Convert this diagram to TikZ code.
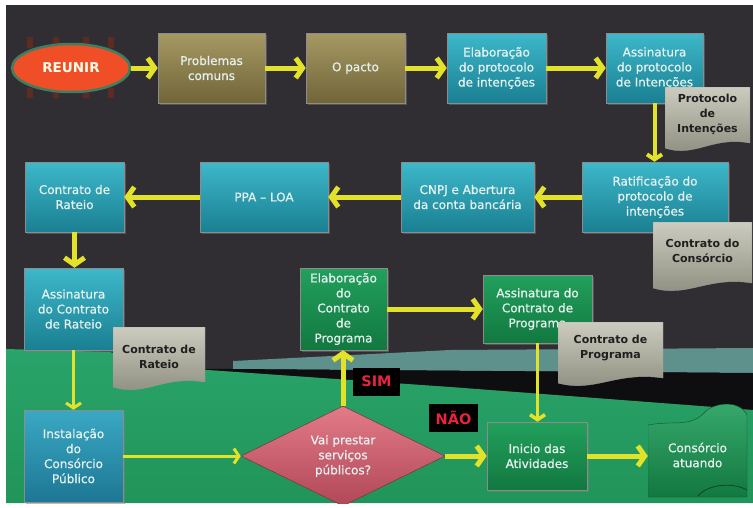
\documentclass[tikz,border=0pt]{standalone}
\usepackage{fontspec}
\setmainfont{DejaVu Sans}
\newfontfamily\boxfont{DejaVu Sans}[FakeBold=0.8]
\usetikzlibrary{shapes.geometric,arrows.meta,calc,shadows}
\definecolor{bgdark}{HTML}{302E33}
\definecolor{tealT}{HTML}{3DB8CA}
\definecolor{tealB}{HTML}{1A7F92}
\definecolor{instT}{HTML}{3AA8C4}
\definecolor{instB}{HTML}{1D7794}
\definecolor{oliveT}{HTML}{A69963}
\definecolor{oliveB}{HTML}{716539}
\definecolor{grnT}{HTML}{22A05C}
\definecolor{grnB}{HTML}{127840}
\definecolor{plane}{HTML}{29A46A}
\definecolor{planeB}{HTML}{219459}
\definecolor{strip}{HTML}{5E918B}
\definecolor{band}{HTML}{0E0E10}
\definecolor{docT}{HTML}{CBCBBF}
\definecolor{docB}{HTML}{8C8C7D}
\definecolor{diaT}{HTML}{E27A88}
\definecolor{diaB}{HTML}{B04858}
\definecolor{arrowY}{HTML}{E2E22A}
\definecolor{reunirF}{HTML}{F04E26}
\definecolor{reunirD}{HTML}{3E7E62}
\definecolor{chair}{HTML}{5E2A24}
\definecolor{boxtext}{HTML}{E4F1EF}
\definecolor{labred}{HTML}{E8243C}
\begin{document}
\begin{tikzpicture}[x=1pt,y=1pt,
  box/.style 2 args={rectangle, minimum width=#1, minimum height=#2, align=center,
    text=boxtext, font=\boxfont\fontsize{12}{15}\selectfont, inner sep=1pt,
    draw=black!45, line width=0.5pt,
    drop shadow={shadow xshift=2pt, shadow yshift=-2pt, opacity=0.45}},
  teal/.style={top color=tealT, bottom color=tealB},
  instc/.style={top color=instT, bottom color=instB},
  olive/.style={top color=oliveT, bottom color=oliveB},
  grn/.style={top color=grnT, bottom color=grnB},
  doctext/.style={align=center, font=\bfseries\fontsize{11}{15}\selectfont, text=black!88},
  doc/.style 2 args={rectangle, minimum width=#1, minimum height=#2, inner sep=0pt,
    path picture={
      \shade[top color=docT, bottom color=docB, draw=black!40]
        let \p1=(path picture bounding box.north west),
            \p2=(path picture bounding box.south east) in
        (\x1,\y1) -- (\x2,\y1) -- (\x2,\y2+10)
        .. controls (\x1+0.55*\x2-0.55*\x1,\y2+17) and (\x1+0.35*\x2-0.35*\x1,\y2-5) ..
        (\x1,\y2+5) -- cycle;
    }},
  arr/.style={draw=arrowY, line width=5pt, -{Straight Barb[length=7pt,width=20pt]}},
  arrthin/.style={draw=arrowY, line width=3pt, -{Straight Barb[length=5pt,width=15pt]}},
  lab/.style={fill=black, text=labred, font=\bfseries\fontsize{14.5}{16}\selectfont,
    minimum width=#1, minimum height=28, inner sep=0pt},
]
\useasboundingbox (0,0) rectangle (753,-507);
\fill[white] (0,0) rectangle (753,-507);
\begin{scope}
\clip (6,-5) rectangle (753,-503);
\fill[bgdark] (6,-5) rectangle (753,-503);
% background planes
\fill[strip] (233,-361) -- (450,-350) -- (753,-348) -- (753,-373) -- (233,-369) -- cycle;
\fill[band] (190,-368.7) -- (233,-369) -- (753,-373) -- (753,-410) -- (450,-387) -- cycle;
\shade[top color=plane, bottom color=planeB]
  (6,-349) -- (110,-352) -- (150,-366) -- (450,-387) -- (753,-410) -- (753,-503) -- (6,-503) -- cycle;

% chairs around the table
\foreach \cx in {30,56,86,111} {
  \fill[chair] (\cx-3,-37) rectangle (\cx+3,-48);
  \fill[chair] (\cx-3,-88) rectangle (\cx+3,-98);
}
\node[ellipse, fill=reunirF, draw=reunirD, line width=2.5pt, minimum width=118, minimum height=48,
  text=white!92!yellow, font=\bfseries\fontsize{13.5}{15}\selectfont] (reunir) at (71,-68) {REUNIR};

% row 1
\node[box={107}{70}, olive] (prob) at (211.5,-68) {Problemas\\comuns};
\node[box={99}{70}, olive] (pacto) at (355.5,-68) {O pacto};
\node[box={99}{70}, teal] (elab) at (496.5,-68) {Elaboração\\do protocolo\\de intenções};
\node[box={97}{70}, teal] (assin) at (654.5,-68) {Assinatura\\do protocolo\\de Intenções};

% row 2
\node[box={146}{70}, teal] (ratif) at (655,-197) {Ratificação do\\protocolo de\\intenções};
\node[box={133}{70}, teal] (cnpj) at (467.5,-197) {CNPJ e Abertura\\da conta bancária};
\node[box={128}{70}, teal] (ppa) at (264,-197) {PPA – LOA};
\node[box={99}{70}, teal] (rateio) at (74.5,-197) {Contrato de\\Rateio};

% row 3
\node[box={99}{82}, teal] (assrat) at (73.5,-309) {Assinatura\\do Contrato\\de Rateio};
\node[box={87}{82}, grn] (elabprog) at (343.5,-309) {Elaboração\\do\\Contrato\\de\\Programa};
\node[box={109}{68}, grn] (assprog) at (537.5,-309) {Assinatura do\\Contrato de\\Programa};

% row 4
\node[box={99}{92}, instc] (inst) at (73.5,-456) {Instalação\\do\\Consórcio\\Público};
\node[diamond, aspect=2.04, minimum width=204, minimum height=100, inner sep=0pt,
  top color=diaT, bottom color=diaB, draw=diaB!70!black, line width=0.5pt,
  align=center, text=boxtext, font=\boxfont\fontsize{12}{15}\selectfont] (dia) at (343,-456) {Vai prestar\\serviços\\públicos?};
\node[box={100}{68}, grn] (inicio) at (537,-456) {Inicio das\\Atividades};
\node[minimum width=99, minimum height=94, inner sep=0pt,
  path picture={
    \shade[top color=grnT!90!white, bottom color=grnB, draw=grnB!70!black]
      let \p1=(path picture bounding box.north west),
          \p2=(path picture bounding box.south east) in
      (\x1,\y2) -- (\x1,\y1-22)
      .. controls (\x1+27,\y1-17) and (\x1+42,\y1-25) .. (\x1+57,\y1-9)
      .. controls (\x1+67,\y1+1) and (\x1+92,\y1+3) .. (\x2,\y1-12)
      -- (\x2,\y2) -- cycle;
    \draw[grnB!60!black, line width=0.8pt]
      let \p1=(path picture bounding box.north west),
          \p2=(path picture bounding box.south east) in
      (\x1+50,\y2+1) .. controls (\x1+60,\y2+13) and (\x1+85,\y2+15) .. (\x2,\y2+7);
  },
  label={[align=center, text=boxtext, font=\boxfont\fontsize{12}{15}\selectfont, yshift=-5]center:{Consórcio\\atuando}}]
  (atuando) at (697.5,-450) {};

% documents
\node[doc={85}{66}, label={[doctext, yshift=6]center:{Protocolo\\de\\Intenções}}] (dprot) at (707.5,-120) {};
\node[doc={99}{71}, label={[doctext, yshift=7]center:{Contrato do\\Consórcio}}] (dcons) at (702.5,-257.5) {};
\node[doc={92}{65}, label={[doctext, yshift=3]center:{Contrato de\\Rateio}}] (drat) at (159,-359.5) {};
\node[doc={105}{66}, label={[doctext, yshift=7]center:{Contrato de\\Programa}}] (dprog) at (610.5,-355) {};

% labels
\node[lab=47] (sim) at (376.5,-381.5) {SIM};
\node[lab=49] (nao) at (453.5,-417.5) {NÃO};

% connectors
\draw[arr] (reunir.east) -- (prob.west);
\draw[arr] (prob.east) -- (pacto.west);
\draw[arr] (pacto.east) -- (elab.west);
\draw[arr] (elab.east) -- (assin.west);
\draw[arrthin, line width=4pt] (assin.south) -- (assin.south |- ratif.north);
\draw[arr] (ratif.west) -- (cnpj.east);
\draw[arr] (cnpj.west) -- (ppa.east);
\draw[arr] (ppa.west) -- (rateio.east);
\draw[arr] (rateio.south) -- (rateio.south |- assrat.north);
\draw[arrthin] (assrat.south) -- (assrat.south |- inst.north);
\draw[arrthin] (inst.east) -- (dia.west);
\draw[arr] (dia.north) -- (dia.north |- elabprog.south);
\draw[arr] (elabprog.east) -- (assprog.west);
\draw[arrthin, line width=3.5pt] (assprog.south) -- (assprog.south |- inicio.north);
\draw[arr] (dia.east) -- (dia.east -| inicio.west);
\draw[arr] (inicio.east) -- (inicio.east -| atuando.west);
\end{scope}
\end{tikzpicture}
\end{document}
